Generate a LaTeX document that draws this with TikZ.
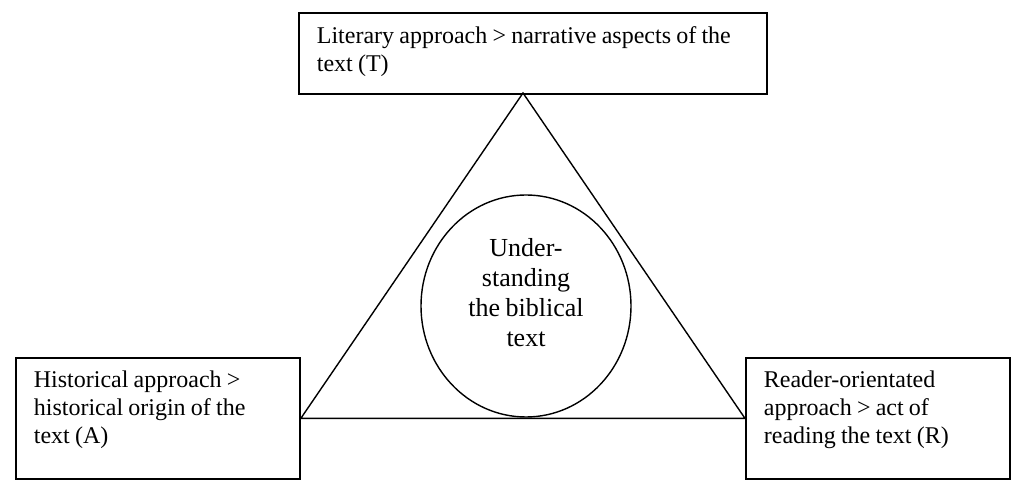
\documentclass[tikz,border=0pt]{standalone}
\usepackage{fontspec}
\setmainfont{Liberation Serif}
\usetikzlibrary{shapes.geometric}
\begin{document}
\begin{tikzpicture}[x=0.5pt, y=-0.5pt,
    approach/.style={draw, line width=0.9pt, anchor=north west, align=left, inner xsep=9pt, inner ysep=0pt, font=\fontsize{12}{14}\selectfont, execute at begin node={\spaceskip=2.6pt\relax}},
    hub/.style={draw, ellipse, line width=0.7pt, inner sep=0pt, align=center, font=\fontsize{13}{15}\selectfont, execute at begin node={\spaceskip=2.8pt\relax}}
  ]
  \useasboundingbox (0,0) rectangle (1028,501);
  \node[approach, text width=216pt, text height=15.5pt, text depth=25pt] (Lit) at (298,12) {Literary approach > narrative aspects of the\\text (T)};
  \node[approach, text width=124pt, text height=15pt, text depth=45.5pt] (Hist) at (15,357) {Historical approach >\\historical origin of the\\text (A)};
  \node[approach, text width=114pt, text height=15pt, text depth=45.5pt] (Read) at (745,357) {Reader-orientated\\approach > act of\\reading the text (R)};
  \coordinate (Apex) at (523,93);
  \draw[line width=0.7pt] (Apex) -- (Hist.east) -- (Read.west) -- cycle;
  \node[hub, minimum width=105pt, minimum height=111pt, text width=70pt, text height=10pt, text depth=59pt] (Und) at (526,306) {Under-\\standing\\the biblical\\text};
\end{tikzpicture}
\end{document}
